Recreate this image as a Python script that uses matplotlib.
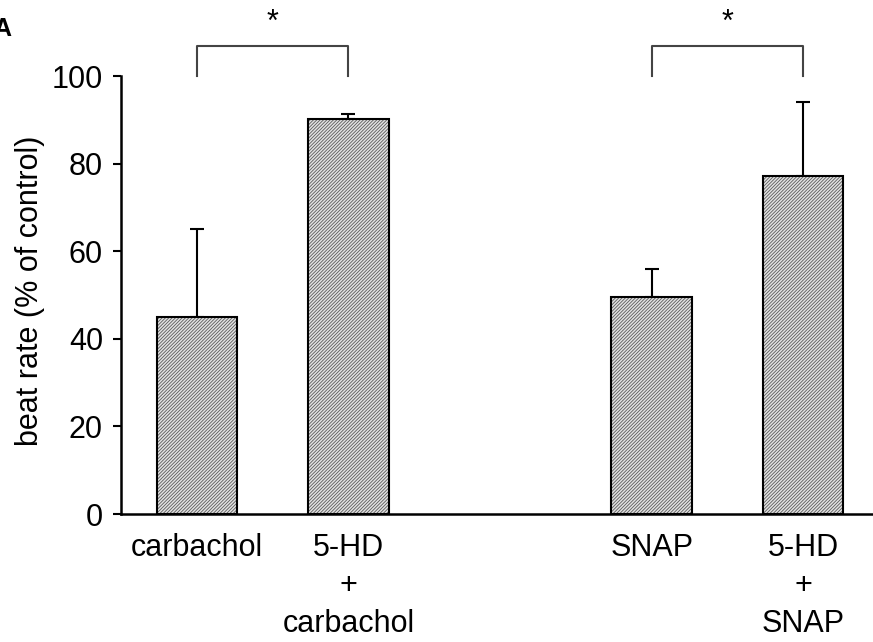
import matplotlib
matplotlib.use("Agg")
import matplotlib.pyplot as plt

categories = ["carbachol", "5-HD\n+\ncarbachol", "SNAP", "5-HD\n+\nSNAP"]
positions = [0, 1, 3, 4]
values = [45, 90.2, 49.5, 77.2]
errors = [20, 1.2, 6.5, 16.8]
yticks = [0, 20, 40, 60, 80, 100]
brackets = [(0, 1), (2, 3)]

plt.rcParams['font.family'] = ['Liberation Sans', 'DejaVu Sans']
plt.rcParams['hatch.linewidth'] = 0.6

fig = plt.figure(figsize=(8.73, 6.42), dpi=100)
ax = fig.add_axes([121/873, 1 - 514/642, 1 - 121/873, (514 - 76)/642])

# hatched fill (gray hatch lines)
ax.bar(positions, values, width=0.53, color='#e2e2e2', edgecolor='#5a5a5a',
       linewidth=0, hatch='//////////', zorder=2)
# black outline
ax.bar(positions, values, width=0.53, fill=False, edgecolor='black',
       linewidth=1.5, zorder=3)
ax.errorbar(positions, values, yerr=[[0]*len(errors), errors], fmt='none',
            ecolor='black', elinewidth=1.5, capsize=5, capthick=1.5, zorder=1)

for (a, b) in brackets:
    ax.plot([positions[a], positions[a], positions[b], positions[b]],
            [100, 106.8, 106.8, 100], color='#444444', lw=1.5, clip_on=False)
    ax.text((positions[a] + positions[b]) / 2, 108.6, '*', ha='center', va='bottom',
            fontsize=22, clip_on=False)

ax.set_xlim(-0.5, 4.46)
ax.set_ylim(0, 100)
ax.set_yticks(yticks)
ax.set_xticks(positions)
ax.set_xticklabels(categories, fontsize=22, linespacing=1.34)
ax.tick_params(axis='x', length=0, pad=14)
ax.tick_params(axis='y', labelsize=22, length=6, width=1.5, pad=7, direction='out')
ax.set_ylabel('beat rate (% of control)', fontsize=22)
ax.yaxis.set_label_coords(-0.101, 0.509)

for s in ['top', 'right']:
    ax.spines[s].set_visible(False)
for s in ['left', 'bottom']:
    ax.spines[s].set_linewidth(1.8)

fig.text(-0.008, 0.955, 'A', fontsize=18, fontweight='bold', ha='left', va='center')

fig.savefig('out.png', dpi=100)
